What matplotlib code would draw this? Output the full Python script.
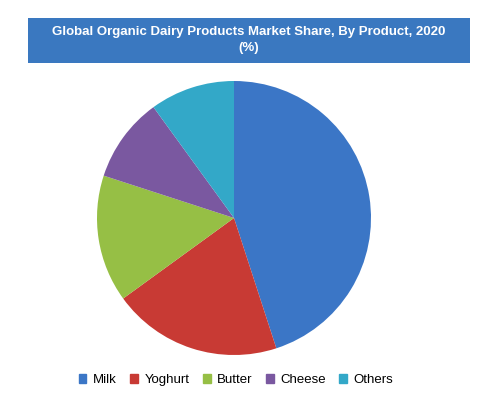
import matplotlib
matplotlib.use("Agg")
import matplotlib.pyplot as plt
from matplotlib.patches import Rectangle

categories = ["Milk", "Yoghurt", "Butter", "Cheese", "Others"]
shares = [45, 20, 15, 10, 10]
colors = ["#3b76c6", "#c83a34", "#96bf45", "#7a58a0", "#33a8c8"]
title = "Global Organic Dairy Products Market Share, By Product, 2020\n(%)"

fig = plt.figure(figsize=(5.03, 4.08), dpi=100)
fig.patches.append(Rectangle((28/503, 1-63/408), 442/503, 45/408, transform=fig.transFigure,
                             facecolor="#3a78c0", edgecolor="none"))
fig.text(249/503, 1-40/408, title, ha="center", va="center", color="white",
         fontsize=9.5, fontweight="bold", family="Liberation Sans", linespacing=1.4)

ax = fig.add_axes([(234-137)/503, 1-(218+137)/408, 274/503, 274/408])
ax.pie(shares, colors=colors, startangle=90, counterclock=False,
       wedgeprops=dict(edgecolor="none"))
ax.set_xlim(-1, 1)
ax.set_ylim(-1, 1)
ax.set_aspect("equal")

handles = [Rectangle((0, 0), 1, 1, color=c) for c in colors]
fig.legend(handles, categories, loc="center", bbox_to_anchor=(236/503, 1-380/408),
           ncol=5, frameon=False, handlelength=0.6, handleheight=0.6,
           columnspacing=1.0, handletextpad=0.5, prop={"family": "Liberation Sans", "size": 9.5})
fig.savefig("out.png", dpi=100)
